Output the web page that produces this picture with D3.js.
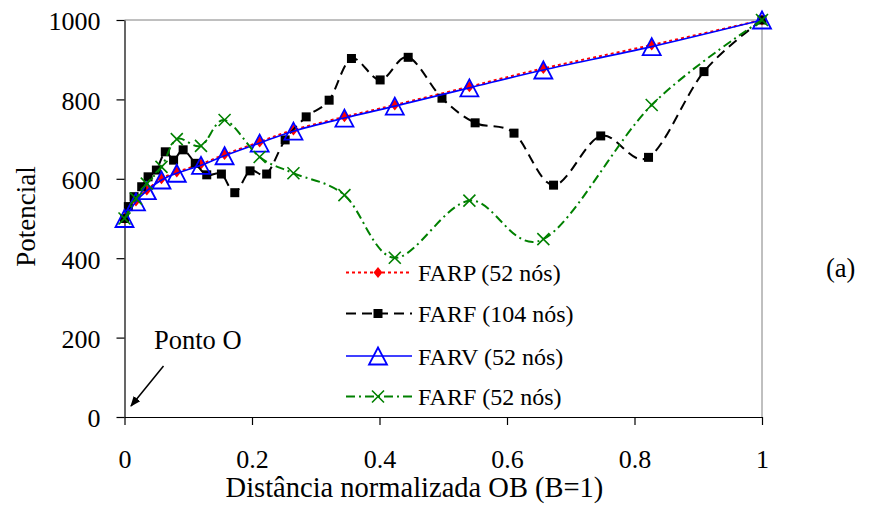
<!DOCTYPE html>
<html>
<head>
<meta charset="utf-8">
<script src="https://cdn.jsdelivr.net/npm/d3@7"></script>
<style>
  html, body { margin: 0; padding: 0; background: #fff; }
  svg { display: block; }
  svg text { font-family: "Liberation Serif", "Times New Roman", serif !important; fill: #000; }
</style>
</head>
<body>
<svg id="chart" width="891" height="507"></svg>
<script>
// ---- data ----
const xs52 = [0, 0.018, 0.035, 0.058, 0.082, 0.12, 0.157, 0.212, 0.265, 0.345, 0.424, 0.541, 0.657, 0.827, 1];
const farp52 = [500, 544, 572, 600, 617, 637, 661, 693, 723, 756, 786, 832, 878, 937, 1000];
const farv52 = [500, 542, 570, 597, 614, 634, 658, 690, 720, 753, 783, 829, 874, 933, 1000];
const farf52 = [500, 550, 588, 630, 700, 683, 748, 655, 614, 559, 401, 545, 448, 786, 1000];
const xs104 = [0, 0.006, 0.015, 0.027, 0.037, 0.05, 0.064, 0.077, 0.092, 0.111, 0.129, 0.152, 0.173, 0.197, 0.223, 0.252, 0.285, 0.321, 0.356, 0.401, 0.445, 0.498, 0.55, 0.611, 0.673, 0.747, 0.822, 0.909, 1];
const farf104 = [500, 530, 555, 580, 605, 622, 668, 647, 673, 639, 610, 612, 565, 620, 612, 698, 756, 798, 903, 849, 906, 803, 741, 715, 584, 708, 654, 870, 1000];
const yTicks = [0, 200, 400, 600, 800, 1000];
const xTicks = [0, 0.2, 0.4, 0.6, 0.8, 1];
const xTickLabels = ["0", "0.2", "0.4", "0.6", "0.8", "1"];
const legendLabels = ["FARP (52 nós)", "FARF (104 nós)", "FARV (52 nós)", "FARF (52 nós)"];
const yTitle = "Potencial";
const xTitle = "Distância normalizada OB (B=1)";
const annotation = "Ponto O";
const panelLabel = "(a)";

// ---- layout ----
const FONT = "'Liberation Serif', 'Times New Roman', serif";
const L = 124.5, R = 762, T = 20, B = 417;
const svg = d3.select("#chart");
const x = d3.scaleLinear().domain([0, 1]).range([L, R]);
const y = d3.scaleLinear().domain([0, 1000]).range([B, T]);

// frame (grey top/right)
svg.append("line").attr("x1", L).attr("x2", R).attr("y1", T).attr("y2", T).attr("stroke", "#808080").attr("stroke-width", 1);
svg.append("line").attr("x1", R).attr("x2", R).attr("y1", T).attr("y2", B).attr("stroke", "#808080").attr("stroke-width", 1);

// axes
const yAxis = d3.axisLeft(y).tickValues(yTicks).tickSize(8).tickSizeOuter(0).tickPadding(16).tickFormat(d3.format("d"));
const gy = svg.append("g").attr("transform", `translate(${L},0)`).call(yAxis);
gy.attr("font-family", FONT).attr("font-size", 26);
gy.selectAll("text").attr("dy", "0.38em");

const xAxis = d3.axisBottom(x).tickValues(xTicks).tickSize(8).tickSizeOuter(0).tickPadding(25)
  .tickFormat((d, i) => xTickLabels[i]);
const gx = svg.append("g").attr("transform", `translate(0,${B})`).call(xAxis);
gx.attr("font-family", FONT).attr("font-size", 26);
[gx, gy].forEach(g => {
  g.select(".domain").attr("stroke", "#000").attr("stroke-width", 1.2);
  g.selectAll(".tick line").attr("stroke", "#000").attr("stroke-width", 1.2);
});

// titles
svg.append("text").attr("transform", "translate(35,216.5) rotate(-90)").attr("text-anchor", "middle")
  .attr("font-family", FONT).attr("font-size", 27).text(yTitle);
svg.append("text").attr("x", 414.5).attr("y", 497).attr("text-anchor", "middle")
  .attr("font-family", FONT).attr("font-size", 28.5).text(xTitle);
svg.append("text").attr("x", 826).attr("y", 277).attr("font-family", FONT).attr("font-size", 26.5).text(panelLabel);

// annotation with arrow
svg.append("defs").append("marker").attr("id", "arrow").attr("viewBox", "0 0 10 10").attr("refX", 9).attr("refY", 5)
  .attr("markerWidth", 7).attr("markerHeight", 7).attr("orient", "auto")
  .append("path").attr("d", "M0,1 L10,5 L0,9 z").attr("fill", "#000");
svg.append("text").attr("x", 154).attr("y", 349).attr("font-family", FONT).attr("font-size", 26.5).text(annotation);
svg.append("line").attr("x1", 163.5).attr("y1", 366).attr("x2", 131).attr("y2", 406)
  .attr("stroke", "#000").attr("stroke-width", 1.5).attr("marker-end", "url(#arrow)");

// series
const curve = d3.curveCardinal.tension(0);
const series = [
  { xs: xs52, ys: farp52, color: "#ff0000", dash: "3,3", width: 2, marker: "diamond" },
  { xs: xs104, ys: farf104, color: "#000000", dash: "10,6", width: 2, marker: "square" },
  { xs: xs52, ys: farv52, color: "#0000ff", dash: null, width: 1.6, marker: "triangle" },
  { xs: xs52, ys: farf52, color: "#008000", dash: "9,4,2,4", width: 2, marker: "x" }
];

function drawMarker(g, type, color, cx, cy) {
  if (type === "diamond") {
    g.append("path").attr("d", `M${cx},${cy - 5.5} L${cx + 4.5},${cy} L${cx},${cy + 5.5} L${cx - 4.5},${cy} Z`).attr("fill", color);
  } else if (type === "square") {
    g.append("rect").attr("x", cx - 4.5).attr("y", cy - 4.5).attr("width", 9).attr("height", 9).attr("fill", color);
  } else if (type === "triangle") {
    g.append("path").attr("d", `M${cx},${cy - 8.5} L${cx + 9},${cy + 8.5} L${cx - 9},${cy + 8.5} Z`)
      .attr("fill", "none").attr("stroke", color).attr("stroke-width", 1.8);
  } else if (type === "x") {
    g.append("path").attr("d", `M${cx - 6},${cy - 6} L${cx + 6},${cy + 6} M${cx - 6},${cy + 6} L${cx + 6},${cy - 6}`)
      .attr("stroke", color).attr("stroke-width", 1.6).attr("fill", "none");
  }
}

series.forEach(s => {
  const pts = s.xs.map((d, i) => [x(d), y(s.ys[i])]);
  const line = d3.line().curve(curve);
  const p = svg.append("path").attr("d", line(pts)).attr("fill", "none").attr("stroke", s.color).attr("stroke-width", s.width);
  if (s.dash) p.attr("stroke-dasharray", s.dash);
  const g = svg.append("g");
  pts.forEach(pt => drawMarker(g, s.marker, s.color, pt[0], pt[1]));
});

// legend
const legY = [272.5, 313.5, 356, 396.5];
series.forEach((s, i) => {
  const ly = legY[i];
  const ln = svg.append("line").attr("x1", 346).attr("x2", 412).attr("y1", ly).attr("y2", ly)
    .attr("stroke", s.color).attr("stroke-width", s.width);
  if (s.dash) ln.attr("stroke-dasharray", s.dash);
  drawMarker(svg.append("g"), s.marker, s.color, 378, ly);
  svg.append("text").attr("x", 418).attr("y", ly + 8.5).attr("font-family", FONT).attr("font-size", 24).text(legendLabels[i]);
});
</script>
</body>
</html>
